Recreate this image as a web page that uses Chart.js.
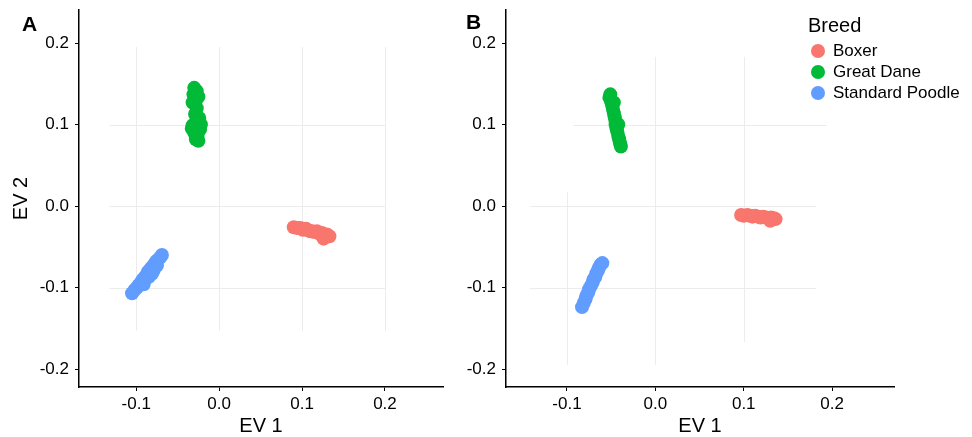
<!DOCTYPE html>
<html>
<head>
<meta charset="utf-8">
<script src="https://cdn.jsdelivr.net/npm/chart.js@4.4.1/dist/chart.umd.min.js"></script>
<style>
  body { margin: 0; background: #fff; }
  #wrap { position: relative; width: 972px; height: 437px; font-family: "Liberation Sans", Arial, sans-serif; color: #000; }
  #wrap canvas { position: absolute; top: 0; }
  .tag { position: absolute; font-weight: bold; font-size: 21px; line-height: 24px; }
  .legend { position: absolute; left: 808px; top: 13px; }
  .legend .ttl { font-size: 20px; line-height: 24px; height: 24px; margin-bottom: 3px; }
  .legend .row { display: flex; align-items: center; height: 21.3px; font-size: 17px; margin-left: 3px; }
  .legend .dot { width: 14px; height: 14px; border-radius: 50%; margin-right: 8px; }
</style>
</head>
<body>
<div id="wrap">
  <canvas id="chartA" width="450" height="437" style="left:0"></canvas>
  <canvas id="chartB" width="522" height="437" style="left:450px"></canvas>
  <div class="tag" style="left:22px; top:12px;">A</div>
  <div class="tag" style="left:466px; top:10px;">B</div>
  <div class="legend" id="legend"></div>
</div>
<script>
// breeds and colours (ggplot defaults)
const breeds = ['Boxer', 'Great Dane', 'Standard Poodle'];
const colors = ['#F8766D', '#00BA38', '#619CFF'];

const xTicks = [-0.1, 0, 0.1, 0.2];
const yTicks = [-0.2, -0.1, 0, 0.1, 0.2];

// Panel A
const boxerAx = [0.090, 0.094, 0.098, 0.101, 0.105, 0.108, 0.112, 0.115, 0.118, 0.121, 0.124, 0.127, 0.130, 0.133, 0.126, 0.110];
const boxerAy = [-0.026, -0.027, -0.027, -0.029, -0.028, -0.030, -0.031, -0.032, -0.031, -0.034, -0.033, -0.036, -0.035, -0.037, -0.040, -0.031];
const daneAx = [-0.030, -0.027, -0.031, -0.025, -0.028, -0.032, -0.027, -0.029, -0.024, -0.028, -0.032, -0.023, -0.030, -0.026, -0.028, -0.025, -0.033, -0.022];
const daneAy = [0.145, 0.141, 0.137, 0.134, 0.130, 0.127, 0.120, 0.113, 0.108, 0.103, 0.099, 0.094, 0.090, 0.086, 0.082, 0.080, 0.095, 0.100];
const poodleAx = [-0.105, -0.102, -0.099, -0.097, -0.094, -0.092, -0.090, -0.088, -0.086, -0.084, -0.082, -0.080, -0.078, -0.076, -0.074, -0.071, -0.069, -0.085, -0.079, -0.091, -0.081, -0.075];
const poodleAy = [-0.107, -0.103, -0.100, -0.097, -0.093, -0.090, -0.088, -0.085, -0.081, -0.079, -0.076, -0.074, -0.071, -0.068, -0.066, -0.063, -0.060, -0.087, -0.079, -0.096, -0.083, -0.073];

// Panel B
const boxerBx = [0.097, 0.100, 0.104, 0.107, 0.110, 0.113, 0.116, 0.119, 0.122, 0.125, 0.128, 0.131, 0.134, 0.136, 0.130];
const boxerBy = [-0.011, -0.012, -0.011, -0.012, -0.013, -0.012, -0.013, -0.014, -0.013, -0.014, -0.015, -0.014, -0.015, -0.016, -0.018];
const daneBx = [-0.051, -0.052, -0.050, -0.049, -0.048, -0.047, -0.046, -0.045, -0.045, -0.044, -0.043, -0.042, -0.041, -0.040, -0.039, -0.047, -0.042];
const daneBy = [0.137, 0.133, 0.128, 0.124, 0.119, 0.114, 0.109, 0.104, 0.100, 0.095, 0.091, 0.086, 0.082, 0.077, 0.073, 0.127, 0.100];
const poodleBx = [-0.083, -0.081, -0.079, -0.078, -0.076, -0.075, -0.073, -0.071, -0.070, -0.068, -0.067, -0.065, -0.064, -0.062, -0.060];
const poodleBy = [-0.124, -0.119, -0.114, -0.110, -0.106, -0.102, -0.098, -0.094, -0.090, -0.087, -0.083, -0.079, -0.076, -0.072, -0.070];

// faint, partial grid segments: [value, from, to] in data units
const gridA = {
  vertical: [[-0.1, 0.195, -0.153], [0, 0.195, -0.153], [0.1, 0.195, -0.153], [0.2, 0.195, -0.153]],
  horizontal: [[0.1, -0.132, 0.2], [0, -0.132, 0.2], [-0.1, -0.132, 0.2]],
};
const gridB = {
  vertical: [[0.1, 0.183, -0.167], [0, 0.183, -0.195], [-0.1, 0.017, -0.195]],
  horizontal: [[0.1, -0.093, 0.194], [0, -0.142, 0.182], [-0.1, -0.142, 0.182]],
};

const pts = (xs, ys) => xs.map((x, i) => ({ x, y: ys[i] }));

const partialGrid = {
  id: 'partialGrid',
  beforeDatasetsDraw(chart, args, opts) {
    const { ctx, scales: { x, y } } = chart;
    ctx.save();
    ctx.strokeStyle = '#ececec';
    ctx.lineWidth = 1;
    (opts.vertical || []).forEach(([v, a, b]) => {
      const px = Math.round(x.getPixelForValue(v)) + 0.5;
      ctx.beginPath();
      ctx.moveTo(px, y.getPixelForValue(a));
      ctx.lineTo(px, y.getPixelForValue(b));
      ctx.stroke();
    });
    (opts.horizontal || []).forEach(([v, a, b]) => {
      const py = Math.round(y.getPixelForValue(v)) + 0.5;
      ctx.beginPath();
      ctx.moveTo(x.getPixelForValue(a), py);
      ctx.lineTo(x.getPixelForValue(b), py);
      ctx.stroke();
    });
    ctx.restore();
  }
};

const tickFont = { family: '"Liberation Sans", Arial, sans-serif', size: 17 };
const titleFont = { family: '"Liberation Sans", Arial, sans-serif', size: 20, lineHeight: 1 };

function makeChart(id, series, grid, yAxisWidth, padRight, showYTitle) {
  return new Chart(document.getElementById(id), {
    type: 'scatter',
    data: {
      datasets: series.map((d, i) => ({
        label: breeds[i],
        data: d,
        backgroundColor: colors[i],
        borderWidth: 0,
        pointRadius: 7,
      })),
    },
    options: {
      responsive: false,
      animation: false,
      layout: { padding: { top: 10, right: padRight, left: 0, bottom: 0 } },
      plugins: {
        legend: { display: false },
        tooltip: { enabled: false },
        partialGrid: grid,
      },
      scales: {
        x: {
          type: 'linear',
          min: -0.169, max: 0.270,
          afterBuildTicks: s => { s.ticks = xTicks.map(v => ({ value: v })); },
          afterFit: s => { s.height = 50; s.paddingLeft = 0; s.paddingRight = 0; },
          ticks: { font: tickFont, color: '#000', padding: 3, callback: v => v.toFixed(1) },
          grid: { drawOnChartArea: false, drawTicks: true, tickLength: 4, color: '#000', lineWidth: 1 },
          border: { display: true, color: '#000', width: 1.5 },
          title: { display: true, text: 'EV 1', font: titleFont, color: '#000', padding: { top: 0, bottom: 1 } },
        },
        y: {
          type: 'linear',
          min: -0.222, max: 0.2405,
          afterBuildTicks: s => { s.ticks = yTicks.map(v => ({ value: v })); },
          afterFit: s => { s.width = yAxisWidth; s.paddingTop = 0; s.paddingBottom = 0; },
          ticks: { font: tickFont, color: '#000', padding: 6, callback: v => v.toFixed(1) },
          grid: { drawOnChartArea: false, drawTicks: true, tickLength: 4, color: '#000', lineWidth: 1 },
          border: { display: true, color: '#000', width: 1.5 },
          title: { display: showYTitle, text: 'EV 2', font: titleFont, color: '#000', padding: { top: 11, bottom: 0 } },
        },
      },
    },
    plugins: [partialGrid],
  });
}

makeChart('chartA', [pts(boxerAx, boxerAy), pts(daneAx, daneAy), pts(poodleAx, poodleAy)], gridA, 79, 5, true);
makeChart('chartB', [pts(boxerBx, boxerBy), pts(daneBx, daneBy), pts(poodleBx, poodleBy)], gridB, 56, 78, false);

// legend
const legend = document.getElementById('legend');
legend.innerHTML = '<div class="ttl">Breed</div>' + breeds.map((b, i) =>
  `<div class="row"><span class="dot" style="background:${colors[i]}"></span>${b}</div>`).join('');
</script>
</body>
</html>
